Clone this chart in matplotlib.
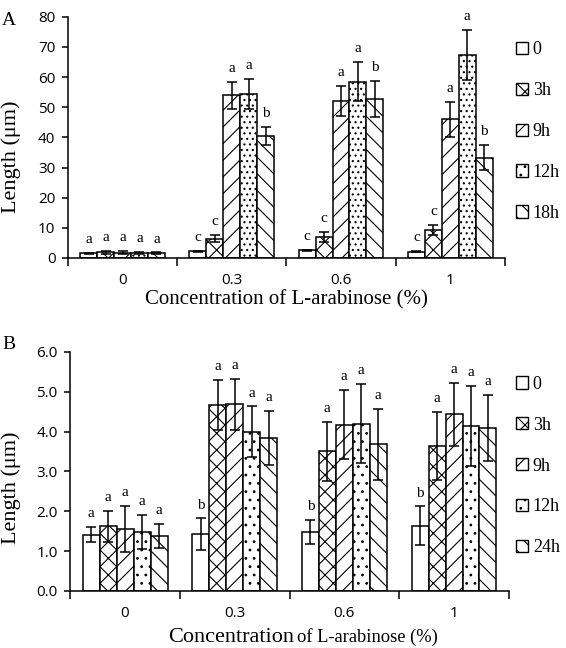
import numpy as np
import matplotlib.pyplot as plt
from matplotlib.patches import Patch

plt.rcParams['font.family'] = ['Liberation Serif', 'DejaVu Serif']
plt.rcParams['hatch.linewidth'] = 0.8

categories = ['0', '0.3', '0.6', '1']

# panel A: length (um), one row per treatment time
series_a = ['0', '3h', '9h', '12h', '18h']
mean_a = [[1.5, 2.2, 2.5, 2.0],
          [1.8, 6.4, 7.0, 9.2],
          [1.7, 53.9, 52.2, 46.0],
          [1.7, 54.4, 58.5, 67.5],
          [1.5, 40.5, 52.8, 33.3]]
err_a = [[0.2, 0.2, 0.2, 0.2],
         [0.4, 1.2, 1.6, 1.7],
         [0.5, 4.4, 5.0, 5.9],
         [0.4, 4.9, 6.5, 8.3],
         [0.3, 2.9, 5.9, 4.2]]
letters_a = [['a', 'c', 'c', 'c'],
             ['a', 'c', 'c', 'c'],
             ['a', 'a', 'a', 'a'],
             ['a', 'a', 'a', 'a'],
             ['a', 'b', 'b', 'b']]

# panel B
series_b = ['0', '3h', '9h', '12h', '24h']
mean_b = [[1.41, 1.43, 1.49, 1.64],
          [1.62, 4.67, 3.50, 3.64],
          [1.56, 4.68, 4.17, 4.43],
          [1.48, 4.00, 4.20, 4.14],
          [1.37, 3.83, 3.68, 4.08]]
err_b = [[0.19, 0.39, 0.30, 0.48],
         [0.38, 0.62, 0.75, 0.86],
         [0.57, 0.63, 0.87, 0.78],
         [0.43, 0.63, 1.00, 1.00],
         [0.30, 0.68, 0.89, 0.83]]
letters_b = [['a', 'b', 'b', 'b'],
             ['a', 'a', 'a', 'a'],
             ['a', 'a', 'a', 'a'],
             ['a', 'a', 'a', 'a'],
             ['a', 'a', 'a', 'a']]

hatches_a = ['', 'xx', '//', '...', '\\\\']
hatches_b = ['', 'xx', '//', '..', '\\\\']
legend_hatches = ['', 'xx', '//', '..', '\\\\']


def draw_panel(ax, series, means, errs, letters, hatches, ymax, ystep, fmt):
    x = np.arange(len(categories))
    w = 0.155
    for i, name in enumerate(series):
        pos = x + (i - 2) * w
        ax.bar(pos, means[i], w, yerr=errs[i], color='white', edgecolor='black',
               linewidth=1.1, hatch=hatches[i], label=name,
               error_kw=dict(ecolor='black', elinewidth=1.1, capsize=3.5, capthick=1.1))
        for p, m, e, t in zip(pos, means[i], errs[i], letters[i]):
            ax.annotate(t, (p, m + e), xytext=(0, 5), textcoords='offset points',
                        ha='center', va='bottom', fontsize=11)
    ticks = np.arange(0, ymax + ystep / 2, ystep)
    ax.set_xlim(-0.5, len(categories) - 0.5)
    ax.set_ylim(0, ymax)
    ax.set_yticks(ticks)
    ax.set_yticklabels([fmt.format(v) for v in ticks], family='Open Sans', fontsize=11)
    ax.set_xticks(np.arange(-0.5, len(categories)))
    ax.set_xticklabels([])
    ax.set_xticks(x, minor=True)
    ax.set_xticklabels(categories, minor=True, family='Open Sans', fontsize=11)
    ax.tick_params(axis='x', which='major', direction='out', length=6, width=1.1)
    ax.tick_params(axis='x', which='minor', length=0, pad=11)
    ax.tick_params(axis='y', direction='out', length=4, width=1.1, pad=5)
    for s in ['top', 'right']:
        ax.spines[s].set_visible(False)
    for s in ['left', 'bottom']:
        ax.spines[s].set_linewidth(1.1)
    ax.set_ylabel('Length (μm)', fontsize=16)


def add_legend(ax, series, y_top):
    handles = [Patch(facecolor='white', edgecolor='black', linewidth=1.0, hatch=h)
               for h in legend_hatches]
    ax.legend(handles, series, loc='upper left', bbox_to_anchor=(0.912, y_top),
              bbox_transform=fig.transFigure, frameon=False, fontsize=13,
              handlelength=0.67, handleheight=0.67, handletextpad=0.25,
              labelspacing=1.32, borderpad=0, borderaxespad=0)


fig = plt.figure(figsize=(5.66, 6.48), dpi=100)

ax1 = fig.add_axes([0.120, 0.602, 0.772, 0.372])
draw_panel(ax1, series_a, mean_a, err_a, letters_a, hatches_a, 80, 10, '{:.0f}')
ax1.set_xlabel('Concentration of L-arabinose (%)', fontsize=15, labelpad=1)
ax1.yaxis.set_label_coords(-0.108, 0.42)
add_legend(ax1, series_a, 0.936)

ax2 = fig.add_axes([0.124, 0.088, 0.775, 0.369])
draw_panel(ax2, series_b, mean_b, err_b, letters_b, hatches_b, 6.0, 1.0, '{:.1f}')
ax2.yaxis.set_label_coords(-0.112, 0.43)
add_legend(ax2, series_b, 0.420)

fig.text(0.519, 0.01, 'Concentration', ha='right', va='baseline', fontsize=16)
fig.text(0.525, 0.01, 'of L-arabinose (%)', ha='left', va='baseline', fontsize=13.3)

fig.text(0.004, 0.962, 'A', fontsize=14)
fig.text(0.004, 0.462, 'B', fontsize=14)

fig.savefig('out.png', dpi=100)
